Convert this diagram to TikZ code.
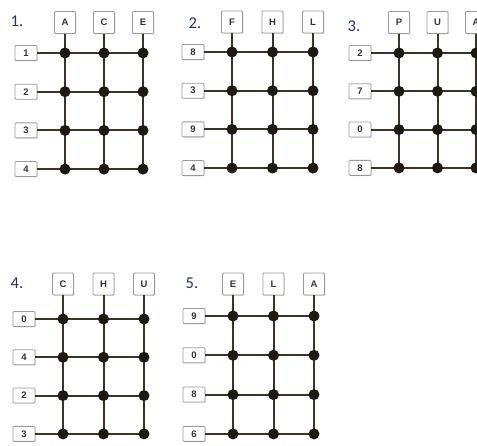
\documentclass[tikz,border=0pt]{standalone}
\usepackage{fontspec}
\setmainfont{Carlito}
\newfontfamily\boxfont{Liberation Sans}
\usetikzlibrary{shadows}
\definecolor{linec}{HTML}{3A3424}
\definecolor{dotc}{HTML}{1E1A10}
\definecolor{numc}{HTML}{24306A}
\definecolor{boxc}{HTML}{9A9A9A}
\definecolor{txtc}{HTML}{333333}
\tikzset{
  numlbl/.style={font=\fontsize{16.5}{16.5}\selectfont, text=numc, inner sep=0pt},
  boxbase/.style={draw=boxc, line width=0.8pt, fill=white, rounded corners=1pt,
    font=\boxfont\bfseries\fontsize{9.5}{9.5}\selectfont, text=txtc, inner sep=0pt,
    drop shadow={shadow xshift=0.8pt, shadow yshift=-0.8pt, opacity=0.25}},
  colbox/.style={boxbase, minimum width=21pt, minimum height=22pt},
  rowbox/.style={boxbase, minimum width=22pt, minimum height=15pt},
  gl/.style={draw=linec, line width=2pt},
  gdot/.style={circle, fill=dotc, minimum size=11pt, inner sep=0pt}
}
% #1 name, #2 x of first column, #3 y of first row, #4 column-box offset,
% #5 column spacing, #6 row spacing, #7 column labels, #8 row labels
\newcommand{\mygrid}[8]{%
  \begin{scope}[shift={(#2,#3)}]
    \foreach \t [count=\i] in {#7} {
      \node[colbox] (#1c\i) at ({(\i-1)*#5},#4) {\t};
    }
    \foreach \t [count=\j] in {#8} {
      \node[rowbox] (#1r\j) at (-39,{(\j-1)*#6}) {\t};
    }
    \foreach \i in {1,2,3} {
      \foreach \j in {1,2,3,4} {
        \coordinate (#1p\i\j) at ({(\i-1)*#5},{(\j-1)*#6});
      }
    }
    \foreach \i in {1,2,3} { \draw[gl] (#1c\i) -- (#1p\i4); }
    \foreach \j in {1,2,3,4} { \draw[gl] (#1r\j) -- (#1p3\j); }
    \foreach \i in {1,2,3} {
      \foreach \j in {1,2,3,4} {
        \node[gdot] (#1d\i\j) at (#1p\i\j) {};
      }
    }
  \end{scope}}
\begin{document}
\begin{tikzpicture}[x=1pt, y=-1pt]
  \useasboundingbox (0,0) rectangle (477,446);
  \clip (0,0) rectangle (477,446);
  \fill[white] (0,0) rectangle (477,446);
  \mygrid{a}{65}{53}{-30.5}{39}{38.7}{A,C,E}{1,2,3,4}
  \mygrid{b}{232}{52}{-30}{40.5}{38.7}{F,H,L}{8,3,9,4}
  \mygrid{c}{399}{53}{-30.5}{38.5}{38.3}{P,U,A}{2,7,0,8}
  \mygrid{d}{63}{319}{-35}{40.5}{38.3}{C,H,U}{0,4,2,3}
  \mygrid{e}{233}{316}{-32}{40.5}{39.3}{E,L,A}{9,0,8,6}
  \node[numlbl] (n1) at (17,21) {1.};
  \node[numlbl] (n2) at (195,23) {2.};
  \node[numlbl] (n3) at (354,26) {3.};
  \node[numlbl] (n4) at (17,283) {4.};
  \node[numlbl] (n5) at (192,283) {5.};
\end{tikzpicture}
\end{document}
